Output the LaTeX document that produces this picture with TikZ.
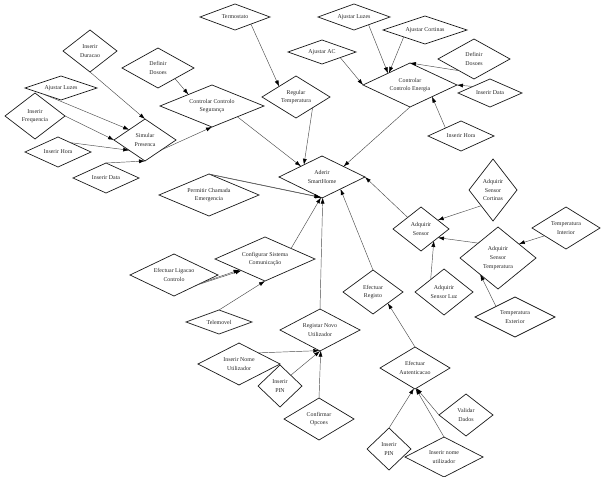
\documentclass[tikz,border=0pt]{standalone}
\usepackage{fontspec}
\setmainfont{Liberation Serif}
\usetikzlibrary{shapes.geometric,arrows.meta}
\tikzset{
  dm/.style n args={3}{diamond, draw=black!90, line width=0.7pt, inner sep=0pt, outer sep=0pt,
    aspect=#3, minimum width=#1pt, minimum height=#2pt, align=center,
    font=\fontsize{5.9}{8.6}\selectfont, text=black!85},
  con/.style={draw=black!70, line width=0.45pt, -{Latex[length=6pt,width=4pt,color=black]}}
}
\begin{document}
\begin{tikzpicture}[x=1pt,y=-1pt]
\useasboundingbox (0,0) rectangle (601,476);
% nodes
\node[dm={54}{42}{1.3}] (dur) at (90,51) {Inserir\\Duracao};
\node[dm={72}{40}{1.8}] (defL) at (158,68) {Definir\\Dosoes};
\node[dm={72}{24}{3}] (ajlL) at (61,88) {Ajustar Luzes};
\node[dm={60}{46}{1.3}] (freq) at (35,116) {Inserir\\Frequencia};
\node[dm={66}{30}{2.2}] (horaL) at (58,152) {Inserir Hora};
\node[dm={62}{42}{1.5}] (sim) at (145,140) {Simular\\Presenca};
\node[dm={66}{30}{2.2}] (dataL) at (106,178) {Inserir Data};
\node[dm={104}{42}{2.5}] (seg) at (212,106) {Controlar Controlo\\Segurança};
\node[dm={70}{26}{2.7}] (term) at (235,17) {Termostato};
\node[dm={68}{42}{1.6}] (reg) at (296,97) {Regular\\Temperatura};
\node[dm={72}{26}{2.8}] (ajlR) at (354,17) {Ajustar Luzes};
\node[dm={68}{24}{2.8}] (ac) at (322,52) {Ajustar AC};
\node[dm={84}{28}{3}] (cort) at (425,30) {Ajustar Cortinas};
\node[dm={94}{44}{2.1}] (ene) at (410,85) {Controlar\\Controlo Energia};
\node[dm={72}{40}{1.8}] (defR) at (474,59) {Definir\\Dosoes};
\node[dm={64}{28}{2.3}] (dataR) at (490,93) {Inserir Data};
\node[dm={66}{30}{2.2}] (horaR) at (461,136) {Inserir Hora};
\node[dm={86}{42}{2}] (ad) at (322,177) {Aderir\\SmartHome};
\node[dm={100}{42}{2.4}] (perm) at (209,195) {Permitir Chamada\\Emergencia};
\node[dm={100}{44}{2.3}] (conf) at (265,259) {Configurar Sistema\\Comunicação};
\node[dm={88}{42}{2.1}] (lig) at (174,275) {Efectuar Ligacao\\Controlo};
\node[dm={66}{24}{2.8}] (tel) at (219,322) {Telemovel};
\node[dm={80}{42}{1.9}] (regn) at (320,330) {Registar Novo\\Utilizador};
\node[dm={82}{42}{2}] (nome) at (239,364) {Inserir Nome\\Utilizador};
\node[dm={44}{42}{1}] (pinL) at (280,386) {Inserir\\PIN};
\node[dm={70}{42}{1.7}] (opc) at (319,419) {Confirmar\\Opcoes};
\node[dm={60}{44}{1.4}] (efreg) at (373,292) {Efectuar\\Registo};
\node[dm={70}{42}{1.7}] (aut) at (415,368) {Efectuar\\Autenticacao};
\node[dm={54}{42}{1.3}] (val) at (466,415) {Validar\\Dados};
\node[dm={44}{42}{1}] (pinB) at (389,449) {Inserir\\PIN};
\node[dm={78}{40}{2}] (nomeB) at (444,457) {Inserir nome\\utilizador};
\node[dm={56}{44}{1.3}] (asens) at (421,229) {Adquirir\\Sensor};
\node[dm={48}{62}{0.8}] (acort) at (493,190) {Adquirir\\Sensor\\Cortinas};
\node[dm={68}{42}{1.6}] (tint) at (566,228) {Temperatura\\Interior};
\node[dm={76}{62}{1.2}] (atemp) at (498,258) {Adquirir\\Sensor\\Temperatura};
\node[dm={58}{46}{1.3}] (aluz) at (444,292) {Adquirir\\Sensor Luz};
\node[dm={80}{40}{2}] (text) at (515,317) {Temperatura\\Exterior};
% connectors
\draw[con] (dur.south) -- (sim.north);
\draw[con] (ajlL.200) -- (sim.147);
\draw[con] (freq.east) -- (sim.west);
\draw[con] (horaL.37) -- (sim.213);
\draw[con] (dataL.north) -- (sim.south);
\draw[con] (sim.-32) -- (seg.south);
\draw[con] (defL.-32) -- (seg.154);
\draw[con] (seg.-23) -- (ad.153);
\draw[con] (term.-24) -- (reg.148);
\draw[con] (reg.-33) -- (ad.146);
\draw[con] (ac.-17) -- (ene.west);
\draw[con] (ajlR.-28) -- (ene.152);
\draw[con] (cort.198) -- (ene.150);
\draw[con] (defR.218) -- (ene.north);
\draw[con] (dataR.159) -- (ene.east);
\draw[con] (horaR.153) -- (ene.-28);
\draw[con] (ene.south) -- (ad.26);
\draw[con] (perm.north) -- (ad.-95);
\draw[con] (perm.86) -- (ad.-92);
\draw[con] (conf.22) -- (ad.-93);
\draw[con] (regn.north) -- (ad.-88);
\draw[con] (efreg.north) -- (ad.-33);
\draw[con] (asens.139) -- (ad.east);
\draw[con] (lig.-23) -- (conf.206);
\draw[con] (lig.-15) -- (conf.203);
\draw[con] (tel.north) -- (conf.south);
\draw[con] (nome.30) -- (regn.-92);
\draw[con] (pinL.45) -- (regn.-90);
\draw[con] (opc.north) -- (regn.-88);
\draw[con] (aut.north) -- (efreg.-37);
\draw[con] (pinB.north) -- (aut.-93);
\draw[con] (nomeB.north) -- (aut.-88);
\draw[con] (val.west) -- (aut.-86);
\draw[con] (acort.233) -- (asens.28);
\draw[con] (atemp.143) -- (asens.-27);
\draw[con] (aluz.137) -- (asens.-43);
\draw[con] (tint.200) -- (atemp.34);
\draw[con] (text.151) -- (atemp.223);
\end{tikzpicture}
\end{document}
